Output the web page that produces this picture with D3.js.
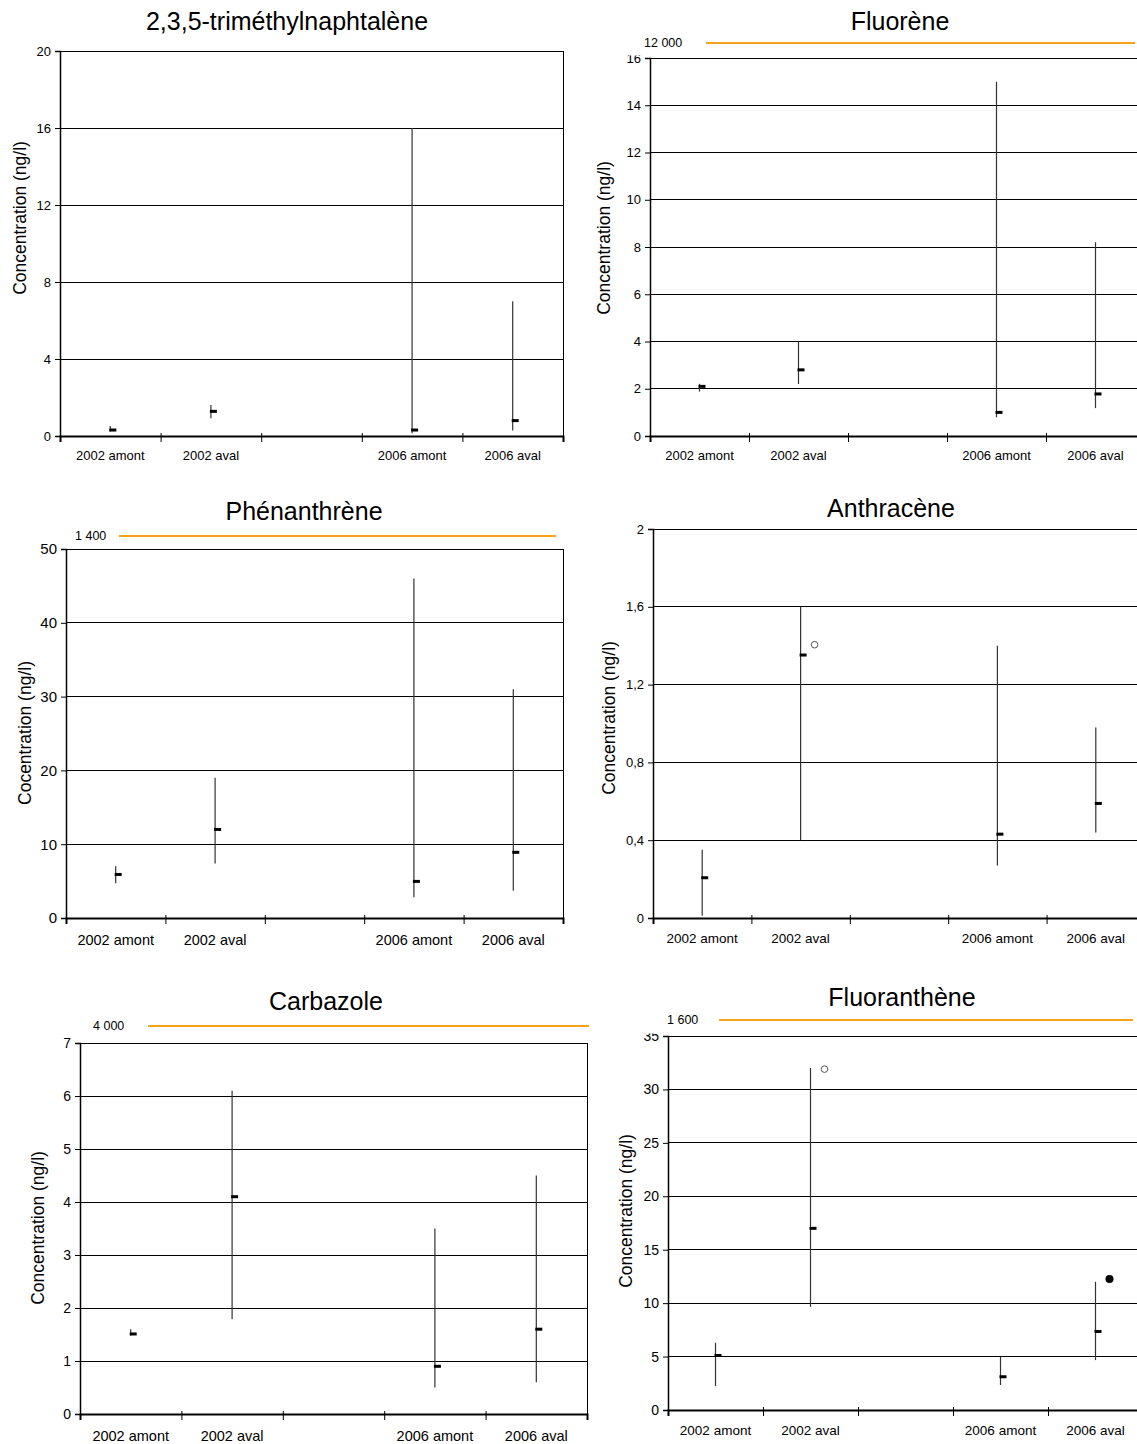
<!DOCTYPE html>
<html><head><meta charset="utf-8">
<script src="https://cdn.jsdelivr.net/npm/d3@7"></script>
<style>body{margin:0;background:#fff}svg{display:block}</style>
</head><body>
<svg id="chart" width="1137" height="1444"></svg>
<script>
// ---------- DATA ----------
const categories = ["2002 amont", "2002 aval", "", "2006 amont", "2006 aval"];

const trimethylMin = [0.23, 0.92, null, 0.14, 0.28];
const trimethylMed = [0.31, 1.28, null, 0.31, 0.80];
const trimethylMax = [0.52, 1.61, null, 16.0, 7.0];
const trimethylTicks = [0, 4, 8, 12, 16, 20];

const fluoreneMin = [1.88, 2.2, null, 0.79, 1.18];
const fluoreneMed = [2.1, 2.8, null, 1.0, 1.78];
const fluoreneMax = [2.21, 4.0, null, 15.0, 8.2];
const fluoreneTicks = [0, 2, 4, 6, 8, 10, 12, 14, 16];

const phenanthreneMin = [4.7, 7.4, null, 2.8, 3.7];
const phenanthreneMed = [5.9, 12.0, null, 4.96, 8.9];
const phenanthreneMax = [7.0, 19.0, null, 46.0, 31.0];
const phenanthreneTicks = [0, 10, 20, 30, 40, 50];

const anthraceneMin = [0.012, 0.40, null, 0.27, 0.44];
const anthraceneMed = [0.207, 1.352, null, 0.431, 0.589];
const anthraceneMax = [0.351, 1.60, null, 1.40, 0.979];
const anthraceneTicks = [0, 0.4, 0.8, 1.2, 1.6, 2];
const anthraceneOutliersOpen = [{cat: 1, value: 1.405}];

const carbazoleMin = [1.48, 1.79, null, 0.50, 0.60];
const carbazoleMed = [1.51, 4.1, null, 0.90, 1.60];
const carbazoleMax = [1.60, 6.10, null, 3.50, 4.50];
const carbazoleTicks = [0, 1, 2, 3, 4, 5, 6, 7];

const fluorantheneMin = [2.24, 9.65, null, 2.34, 4.67];
const fluorantheneMed = [5.1, 17.0, null, 3.11, 7.35];
const fluorantheneMax = [6.29, 32.0, null, 4.98, 12.0];
const fluorantheneTicks = [0, 5, 10, 15, 20, 25, 30, 35];
const fluorantheneOutliersOpen = [{cat: 1, value: 31.9}];
const fluorantheneOutliersFilled = [{cat: 4, value: 12.27}];

const titles = ["2,3,5-triméthylnaphtalène", "Fluorène", "Phénanthrène", "Anthracène", "Carbazole", "Fluoranthène"];
const yLabels = ["Concentration (ng/l)", "Concentration (ng/l)", "Cocentration (ng/l)", "Concentration (ng/l)", "Concentration (ng/l)", "Concentration (ng/l)"];
const thresholdLabels = [null, "12 000", "1 400", null, "4 000", "1 600"];

// ---------- LAYOUT ----------
const panels = [
  {min: trimethylMin, med: trimethylMed, max: trimethylMax, ticks: trimethylTicks, open: [], filled: [],
   L: 60, R: 563, T: 51, B: 436, tx: 287, ty: 21, ylx: 20, yly: 218, xly: 455, fx: 13, fy: 13,
   thr: null},
  {min: fluoreneMin, med: fluoreneMed, max: fluoreneMax, ticks: fluoreneTicks, open: [], filled: [],
   L: 650, R: 1145, T: 58, B: 436, tx: 900, ty: 21, ylx: 604, yly: 238, xly: 455, fx: 13, fy: 13,
   thr: {y: 43, x1: 706, x2: 1135, lx: 644}, clip: true},
  {min: phenanthreneMin, med: phenanthreneMed, max: phenanthreneMax, ticks: phenanthreneTicks, open: [], filled: [],
   L: 66, R: 563, T: 549, B: 918, tx: 304, ty: 511, ylx: 25, yly: 733, xly: 940, fx: 14.5, fy: 15,
   thr: {y: 536, x1: 119, x2: 556, lx: 75}},
  {min: anthraceneMin, med: anthraceneMed, max: anthraceneMax, ticks: anthraceneTicks, open: anthraceneOutliersOpen, filled: [],
   L: 653, R: 1145, T: 529, B: 918, tx: 891, ty: 508, ylx: 609, yly: 718, xly: 938, fx: 13.5, fy: 13,
   thr: null, comma: true},
  {min: carbazoleMin, med: carbazoleMed, max: carbazoleMax, ticks: carbazoleTicks, open: [], filled: [],
   L: 80, R: 587, T: 1043, B: 1414, tx: 326, ty: 1001, ylx: 38, yly: 1228, xly: 1436, fx: 14.5, fy: 14,
   thr: {y: 1026, x1: 148, x2: 589, lx: 93}},
  {min: fluorantheneMin, med: fluorantheneMed, max: fluorantheneMax, ticks: fluorantheneTicks,
   open: fluorantheneOutliersOpen, filled: fluorantheneOutliersFilled,
   L: 668, R: 1143, T: 1036, B: 1410, tx: 902, ty: 997, ylx: 626, yly: 1211, xly: 1430, fx: 13.5, fy: 14,
   thr: {y: 1020, x1: 719, x2: 1133, lx: 667}, clip: true}
];

const FONT = "'Liberation Sans', Arial, Helvetica, sans-serif";
const svg = d3.select("#chart").style("font-family", FONT);

panels.forEach((p, i) => {
  const g = svg.append("g");
  const idx = d3.range(categories.length);
  const xb = d3.scaleBand().domain(idx).range([p.L, p.R]).paddingInner(0).paddingOuter(0);
  const xl = d3.scaleLinear().domain([0, categories.length]).range([p.L, p.R]);
  const y = d3.scaleLinear().domain([0, d3.max(p.ticks)]).range([p.B, p.T]);
  const fmt = p.comma ? (d => String(d).replace(".", ",")) : (d => String(d));

  // gridlines
  g.append("g").selectAll("line").data(p.ticks.filter(t => t > 0)).join("line")
    .attr("x1", p.L).attr("x2", p.R).attr("y1", d => y(d)).attr("y2", d => y(d))
    .attr("stroke", "#000").attr("stroke-width", 1).attr("shape-rendering", "crispEdges");
  // right border
  g.append("line").attr("x1", p.R).attr("x2", p.R).attr("y1", p.T).attr("y2", p.B)
    .attr("stroke", "#000").attr("stroke-width", 1).attr("shape-rendering", "crispEdges");

  // y axis
  const ya = g.append("g").attr("transform", `translate(${p.L},0)`)
    .call(d3.axisLeft(y).tickValues(p.ticks).tickFormat(fmt).tickSize(5).tickPadding(4));
  ya.select(".domain").attr("stroke", "#000").attr("stroke-width", 1.5);
  ya.selectAll("text").attr("font-size", p.fy).attr("font-family", FONT).attr("fill", "#000");

  if (p.clip) {
    g.append("rect").attr("x", p.L - 30).attr("y", p.T - 14).attr("width", 26).attr("height", 11.5).attr("fill", "#fff");
  }

  // x axis: boundary ticks
  const xa = g.append("g").attr("transform", `translate(0,${p.B})`)
    .call(d3.axisBottom(xl).tickValues(d3.range(categories.length + 1)).tickFormat("").tickSize(6));
  xa.select(".domain").attr("stroke", "#000").attr("stroke-width", 2);
  xa.selectAll(".tick line").attr("y1", -3).attr("stroke", "#000");
  // x axis labels
  const xa2 = g.append("g").attr("transform", `translate(0,${p.B})`)
    .call(d3.axisBottom(xb).tickFormat(d => categories[d]).tickSize(0).tickPadding(p.xly - p.B - 0.36 * p.fx));
  xa2.select(".domain").remove();
  xa2.selectAll("text").attr("font-size", p.fx).attr("font-family", FONT).attr("fill", "#000");

  // whiskers and medians
  const rows = idx.filter(k => p.med[k] != null);
  const cx = k => xb(k) + xb.bandwidth() / 2;
  g.append("g").selectAll("line").data(rows).join("line")
    .attr("x1", k => cx(k)).attr("x2", k => cx(k))
    .attr("y1", k => y(p.min[k])).attr("y2", k => y(p.max[k]))
    .attr("stroke", "#333").attr("stroke-width", 1.2);
  g.append("g").selectAll("rect").data(rows).join("rect")
    .attr("x", k => cx(k) - 1).attr("width", 7)
    .attr("y", k => y(p.med[k]) - 1.5).attr("height", 3).attr("fill", "#000");

  // outliers
  g.append("g").selectAll("circle.o").data(p.open).join("circle")
    .attr("cx", d => cx(d.cat) + 14).attr("cy", d => y(d.value)).attr("r", 3.3)
    .attr("fill", "none").attr("stroke", "#555").attr("stroke-width", 1);
  g.append("g").selectAll("circle.f").data(p.filled).join("circle")
    .attr("cx", d => cx(d.cat) + 14).attr("cy", d => y(d.value)).attr("r", 4)
    .attr("fill", "#000");

  // title
  g.append("text").attr("x", p.tx).attr("y", p.ty).attr("dy", "0.35em")
    .attr("text-anchor", "middle").attr("font-size", 25).attr("fill", "#000").text(titles[i]);
  // y label
  g.append("text").attr("transform", `translate(${p.ylx},${p.yly}) rotate(-90)`)
    .attr("dy", "0.35em").attr("text-anchor", "middle").attr("font-size", 17.5).attr("fill", "#000")
    .text(yLabels[i]);

  // threshold
  if (p.thr) {
    g.append("line").attr("x1", p.thr.x1).attr("x2", p.thr.x2).attr("y1", p.thr.y).attr("y2", p.thr.y)
      .attr("stroke", "#f7a21b").attr("stroke-width", 2);
    g.append("text").attr("x", p.thr.lx).attr("y", p.thr.y).attr("dy", "0.35em")
      .attr("font-size", 12.5).attr("fill", "#000").text(thresholdLabels[i]);
  }
});
</script>
</body></html>
